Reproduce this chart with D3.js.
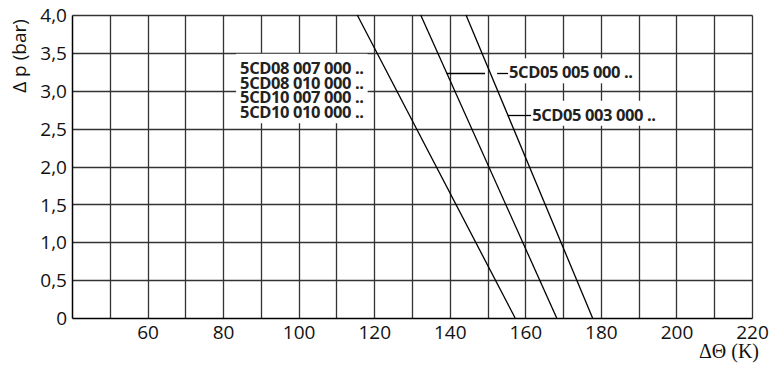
<!DOCTYPE html>
<html>
<head>
<meta charset="utf-8">
<script src="https://cdn.jsdelivr.net/npm/d3@7"></script>
<style>
  body { margin: 0; background: #fff; }
  svg { display: block; font-family: "Open Sans", sans-serif; }
</style>
</head>
<body>
<div id="chart"></div>
<script>
// Chart area
var svgWidth = 769;
var svgHeight = 365;
var margin = { top: 15, right: 17, bottom: 47, left: 72 };
var width = svgWidth - margin.left - margin.right;
var height = svgHeight - margin.top - margin.bottom;

// Data
const xTicks = [60, 80, 100, 120, 140, 160, 180, 200, 220];
const yTicks = [0, 0.5, 1.0, 1.5, 2.0, 2.5, 3.0, 3.5, 4.0];
const curveLabels = [
  ["5CD08 007 000 ..", "5CD08 010 000 ..", "5CD10 007 000 ..", "5CD10 010 000 .."],
  ["5CD05 005 000 .."],
  ["5CD05 003 000 .."]
];
// each curve: [dT at 4 bar, dT at 0 bar]
const curveTop = [115.5, 132.3, 144.3];
const curveBottom = [157.3, 168.3, 177.8];
const pTop = 4.0;
const pBottom = 0;

var svg = d3.select("#chart").append("svg")
  .attr("width", svgWidth)
  .attr("height", svgHeight);

var chartGroup = svg.append("g")
  .attr("transform", `translate(${margin.left}, ${margin.top})`);

var x = d3.scaleLinear().domain([40, 220]).range([0, width]);
var y = d3.scaleLinear().domain([0, 4]).range([height, 0]);

var px = v => Math.round(x(v)) + 0.5;
var py = v => Math.round(y(v)) + 0.5;

// grid lines every 10 K and 0.5 bar
var gridX = d3.range(50, 221, 10);
var gridY = d3.range(0.5, 4.01, 0.5);

chartGroup.selectAll(".vgrid")
  .data(gridX)
  .enter()
  .append("line")
  .attr("x1", d => px(d)).attr("x2", d => px(d))
  .attr("y1", py(0)).attr("y2", py(4))
  .attr("stroke", "#333")
  .attr("stroke-width", 1.3);

chartGroup.selectAll(".hgrid")
  .data(gridY)
  .enter()
  .append("line")
  .attr("x1", px(40)).attr("x2", px(220))
  .attr("y1", d => py(d)).attr("y2", d => py(d))
  .attr("stroke", "#333")
  .attr("stroke-width", 1.3);

// axes (just the lines)
chartGroup.append("line")
  .attr("x1", px(40)).attr("x2", px(40))
  .attr("y1", py(0)).attr("y2", py(4))
  .attr("stroke", "#000").attr("stroke-width", 1.5);
chartGroup.append("line")
  .attr("x1", px(40)).attr("x2", px(220))
  .attr("y1", py(0)).attr("y2", py(0))
  .attr("stroke", "#000").attr("stroke-width", 1.5);

// tick labels
var yAxis = d3.axisLeft(y)
  .tickValues(yTicks)
  .tickSize(0)
  .tickPadding(5)
  .tickFormat(d => d === 0 ? "0" : d3.format(".1f")(d).replace(".", ","));
var xAxis = d3.axisBottom(x)
  .tickValues(xTicks)
  .tickSize(0)
  .tickPadding(5);

var yAxisG = chartGroup.append("g").call(yAxis);
var xAxisG = chartGroup.append("g")
  .attr("transform", `translate(0, ${height})`)
  .call(xAxis);
[yAxisG, xAxisG].forEach(g => {
  g.select(".domain").remove();
  g.selectAll("text")
    .attr("font-family", "Open Sans, sans-serif")
    .attr("font-size", 19)
    .attr("fill", "#111");
});
yAxisG.selectAll("text").attr("dy", "0.35em");
xAxisG.selectAll("text").attr("dy", "0.85em");

// white label boxes (drawn before the curves)
var boxGroup = chartGroup.append("g");
var labelGroup = chartGroup.append("g");

// curves
var line = d3.line().x(d => x(d[0])).y(d => y(d[1]));
curveTop.forEach((t, i) => {
  chartGroup.append("path")
    .attr("d", line([[t, pTop], [curveBottom[i], pBottom]]))
    .attr("stroke", "#000")
    .attr("stroke-width", 1.3)
    .attr("fill", "none");
});

function curveAt(i, p) {
  return curveBottom[i] + (curveTop[i] - curveBottom[i]) * (p - pBottom) / (pTop - pBottom);
}

// label positions (K, bar)
const labelX = [84.5, 155.7, 161.8];
const labelP = [3.3, 3.24, 2.68];
var lineStep = 14.8;

function addLabel(i) {
  var t = labelGroup.append("text")
    .attr("x", x(labelX[i]))
    .attr("y", y(labelP[i]))
    .attr("font-size", 16.5)
    .attr("font-weight", "bold")
    .attr("letter-spacing", -0.4)
    .attr("fill", "#222");
  curveLabels[i].forEach((s, k) => {
    t.append("tspan")
      .attr("x", x(labelX[i]))
      .attr("dy", k === 0 ? "0.35em" : lineStep)
      .text(s);
  });
  var bb = t.node().getBBox();
  boxGroup.append("rect")
    .attr("x", bb.x - 4).attr("y", bb.y - 2)
    .attr("width", bb.width + 8).attr("height", bb.height + 2)
    .attr("fill", "#fff");
}
curveLabels.forEach((c, i) => addLabel(i));

// leader lines
var p2 = labelP[1];
chartGroup.append("line")
  .attr("x1", x(curveAt(1, p2))).attr("x2", x(curveAt(2, p2)) - 5)
  .attr("y1", py(p2)).attr("y2", py(p2))
  .attr("stroke", "#000").attr("stroke-width", 1.3);
chartGroup.append("line")
  .attr("x1", x(curveAt(2, p2)) + 7).attr("x2", x(labelX[1]) - 1)
  .attr("y1", py(p2)).attr("y2", py(p2))
  .attr("stroke", "#000").attr("stroke-width", 1.3);
var p3 = labelP[2];
chartGroup.append("line")
  .attr("x1", x(curveAt(2, p3))).attr("x2", x(labelX[2]) - 1)
  .attr("y1", py(p3)).attr("y2", py(p3))
  .attr("stroke", "#000").attr("stroke-width", 1.3);

// axis titles
svg.append("text")
  .attr("transform", `translate(26, 56) rotate(-90)`)
  .attr("text-anchor", "middle")
  .attr("font-size", 19)
  .attr("fill", "#111")
  .text("Δ p (bar)");

svg.append("text")
  .attr("x", 759)
  .attr("y", 358)
  .attr("text-anchor", "end")
  .attr("font-family", "Liberation Serif, serif")
  .attr("font-size", 20)
  .attr("fill", "#111")
  .text("ΔΘ (K)");
</script>
</body>
</html>
